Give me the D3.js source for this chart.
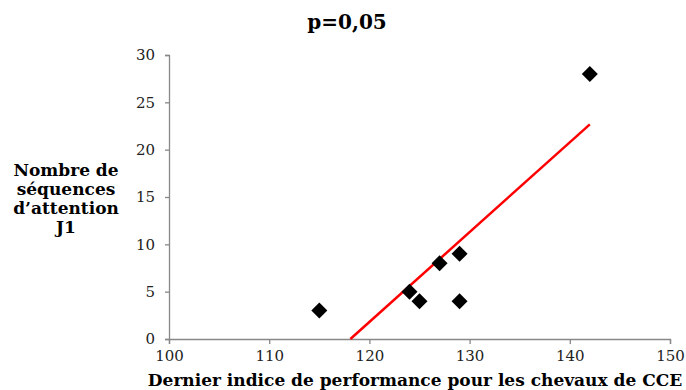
<!DOCTYPE html>
<html>
<head>
<meta charset="utf-8">
<script src="https://cdn.jsdelivr.net/npm/d3@7"></script>
<style>
  body { margin: 0; background: #fff; }
  svg text { font-family: Georgia, "DejaVu Serif", serif; }
</style>
</head>
<body>
<div id="chart"></div>
<script>
/////////////////////////////////////
///      DATA
/////////////////////////////////////
var indices   = [115, 124, 125, 127, 129, 129, 142];
var sequences = [3, 5, 4, 8, 9, 4, 28];
var xTicks = [100, 110, 120, 130, 140, 150];
var yTicks = [0, 5, 10, 15, 20, 25, 30];
var chartTitle = "p=0,05";
var xTitle = "Dernier indice de performance pour les chevaux de CCE";
var yTitle = ["Nombre de", "séquences", "d\u2019attention", "J1"];

var width = 686, height = 390;
var margin = {left: 169, right: 16, top: 55, bottom: 51};

var svg = d3.select("#chart").append("svg")
  .attr("width", width)
  .attr("height", height);

var x = d3.scaleLinear().domain([100, 150]).range([margin.left, width - margin.right]);
var y = d3.scaleLinear().domain([0, 30]).range([height - margin.bottom, margin.top]);

// axes
var xAxis = svg.append("g")
  .attr("transform", "translate(0," + y(0) + ")")
  .call(d3.axisBottom(x).tickValues(xTicks).tickSize(5).tickPadding(6));
var yAxis = svg.append("g")
  .attr("transform", "translate(" + x(100) + ",0)")
  .call(d3.axisLeft(y).tickValues(yTicks).tickSize(4).tickPadding(10));

[xAxis, yAxis].forEach(function(ax){
  ax.select(".domain").attr("stroke", "#888").attr("stroke-width", 1.3);
  ax.selectAll(".tick line").attr("stroke", "#888").attr("stroke-width", 1.3);
  ax.selectAll(".tick text")
    .attr("fill", "#222")
    .style("font-size", "15px")
    .style("font-family", 'Georgia, "DejaVu Serif", serif');
});

// trendline (least squares), clipped at y=0
var mx = d3.mean(indices), my = d3.mean(sequences);
var sxy = d3.sum(indices, function(d,i){ return (d - mx) * (sequences[i] - my); });
var sxx = d3.sum(indices, function(d){ return (d - mx) * (d - mx); });
var slope = sxy / sxx, icpt = my - slope * mx;
var x0 = Math.max(d3.min(indices), -icpt / slope), x1 = d3.max(indices);

svg.append("line")
  .attr("x1", x(x0)).attr("y1", y(slope * x0 + icpt))
  .attr("x2", x(x1)).attr("y2", y(slope * x1 + icpt))
  .attr("stroke", "#ff0000")
  .attr("stroke-width", 2.5);

// points
svg.selectAll(".pt")
  .data(indices)
  .enter().append("path")
  .attr("class", "pt")
  .attr("d", d3.symbol().type(d3.symbolSquare).size(128))
  .attr("transform", function(d,i){ return "translate(" + x(d) + "," + y(sequences[i]) + ") rotate(45)"; })
  .attr("fill", "#000");

// titles
svg.append("text")
  .attr("x", 347).attr("y", 29)
  .attr("text-anchor", "middle")
  .style("font-size", "20px").style("font-weight", "bold")
  .text(chartTitle);

svg.append("text")
  .attr("x", 415).attr("y", 386)
  .attr("text-anchor", "middle")
  .style("font-size", "17px").style("font-weight", "bold")
  .text(xTitle);

svg.append("g").selectAll("text")
  .data(yTitle)
  .enter().append("text")
  .attr("x", 66)
  .attr("y", function(d,i){ return 176 + i * 19; })
  .attr("text-anchor", "middle")
  .style("font-size", "17px").style("font-weight", "bold")
  .text(function(d){ return d; });
</script>
</body>
</html>
